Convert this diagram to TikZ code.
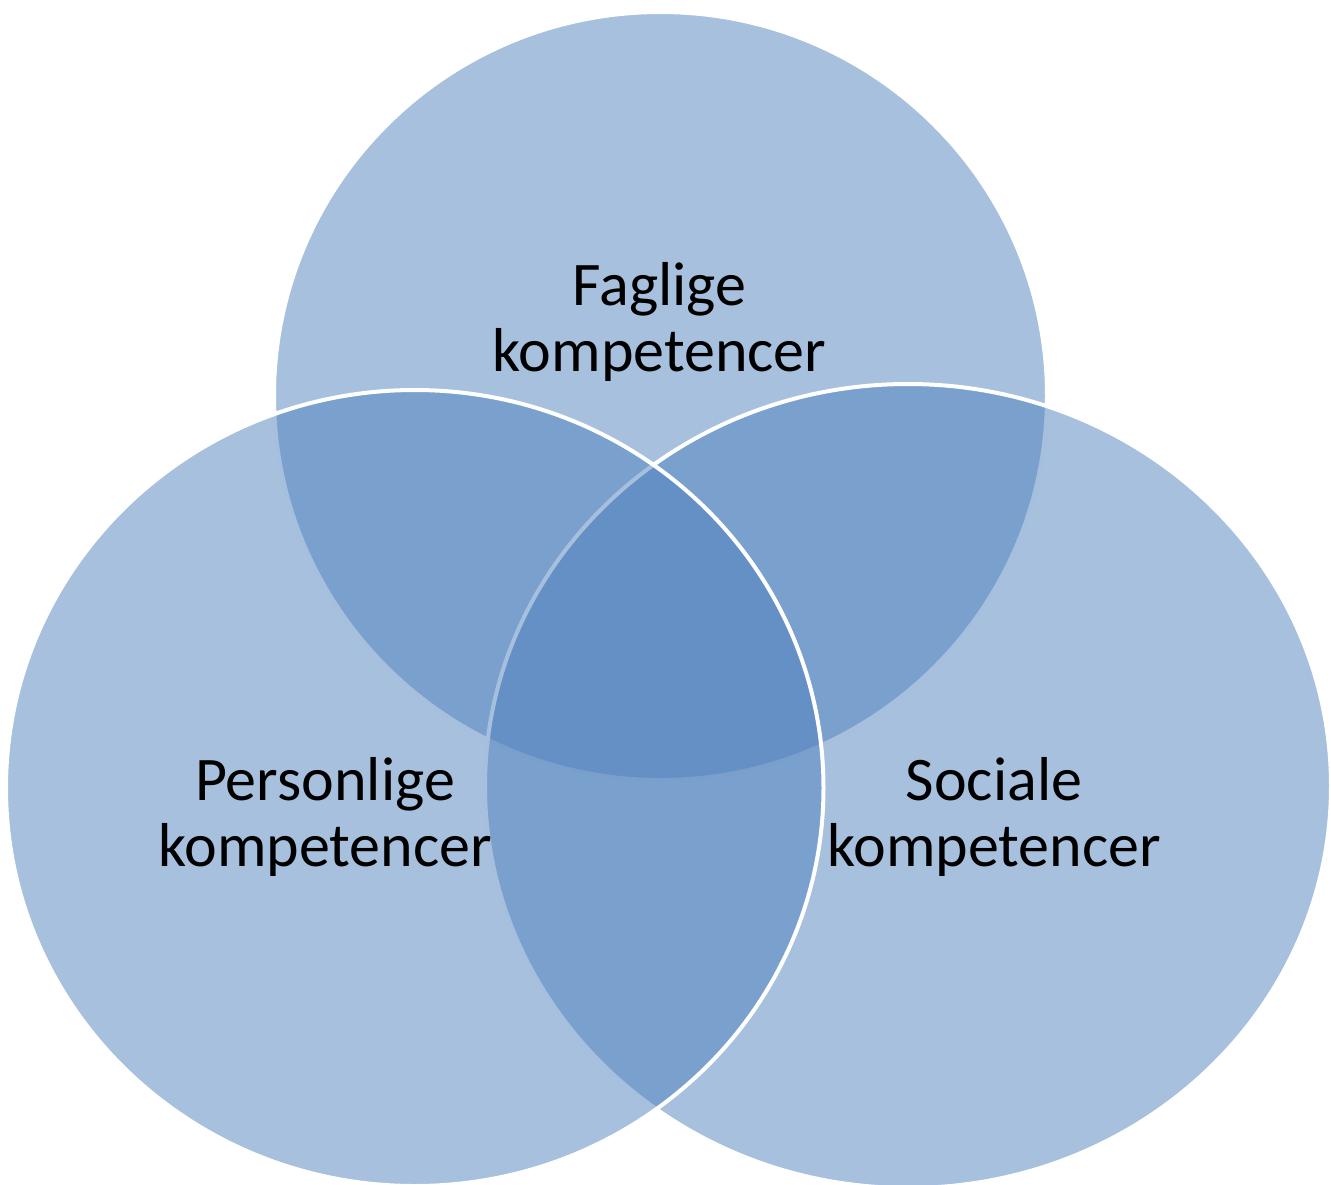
\documentclass[tikz,border=0pt]{standalone}
\usepackage{fontspec}
\setmainfont{Carlito}
\definecolor{vennblue}{HTML}{4F81BD}
\tikzset{
  venn/.style={fill=vennblue, fill opacity=0.5, draw=white, draw opacity=1, line width=4pt},
  lbl/.style={anchor=base, inner sep=0pt, text=black, font=\fontsize{62}{66}\selectfont}
}
\begin{document}
\begin{tikzpicture}[x=1pt,y=-1pt]
\useasboundingbox (0,0) rectangle (1331,1184);
% top, right, left (drawing order as in the reference)
\path[venn] (660.5,396) ellipse [x radius=386.5pt, y radius=384pt];
\path[venn] (908,786) ellipse [x radius=423pt, y radius=402pt];
\path[venn] (414.75,788) ellipse [x radius=408.75pt, y radius=398pt];
\node[lbl] (faglige) at (659.5,305) {\begin{tabular}[t]{@{}c@{}}Faglige\\kompetencer\end{tabular}};
\node[lbl] (personlige) at (325,800) {\begin{tabular}[t]{@{}c@{}}Personlige\\kompetencer\end{tabular}};
\node[lbl] (sociale) at (994,800) {\begin{tabular}[t]{@{}c@{}}Sociale\\kompetencer\end{tabular}};
\end{tikzpicture}
\end{document}
